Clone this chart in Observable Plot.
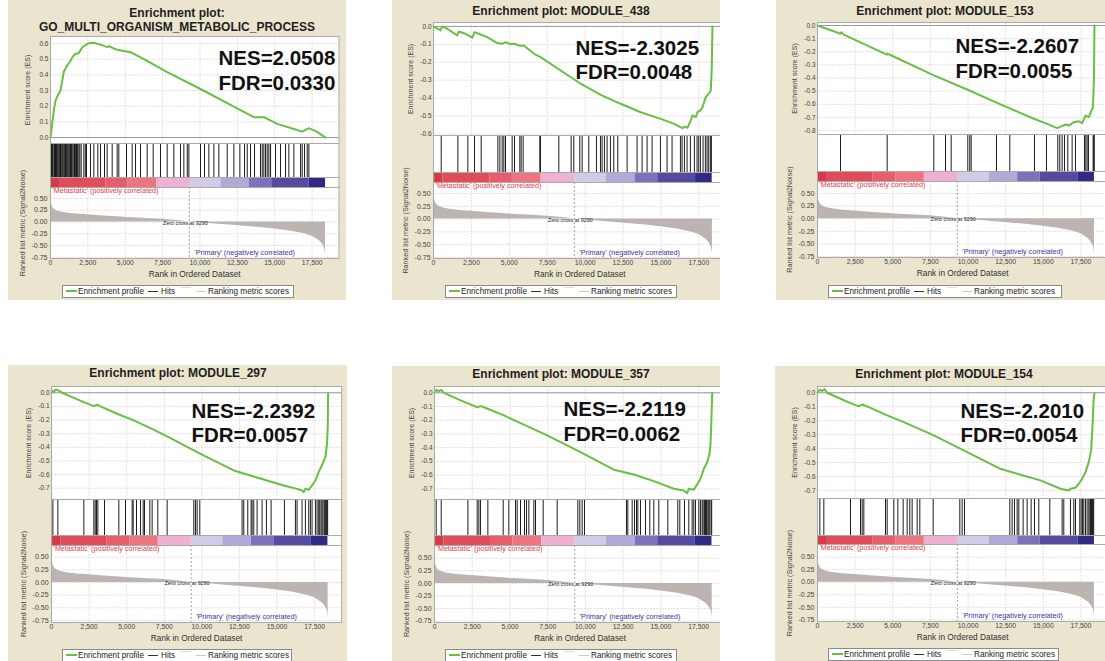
<!DOCTYPE html>
<html><head><meta charset="utf-8">
<script src="https://cdn.jsdelivr.net/npm/d3@7"></script>
<script src="https://cdn.jsdelivr.net/npm/@observablehq/plot@0.6"></script>
<style>
html,body{margin:0;padding:0;background:#fff;}
#root{position:relative;width:1105px;height:661px;overflow:hidden;font-family:"Liberation Sans",Arial,sans-serif;}
.panel{position:absolute;background:#ebe4cf;overflow:hidden;}
.panel svg{position:absolute;max-width:none;overflow:visible;}
.title{position:absolute;font-weight:bold;font-size:12px;line-height:14px;color:#1e1e1e;white-space:nowrap;transform:translateX(-50%);text-align:center;}
.legend{position:absolute;height:11px;background:#fff;border:1px solid #8a8a8a;font-size:8.2px;color:#222;}
.legend span{position:absolute;top:0;line-height:11px;white-space:nowrap;}
.legend i{position:absolute;height:0;width:10px;}
</style></head><body><div id="root"></div>
<script>
// ---------------- DATA ----------------
const panelTitles = [
  "Enrichment plot:\nGO_MULTI_ORGANISM_METABOLIC_PROCESS",
  "Enrichment plot: MODULE_438",
  "Enrichment plot: MODULE_153",
  "Enrichment plot: MODULE_297",
  "Enrichment plot: MODULE_357",
  "Enrichment plot: MODULE_154"
];
const nesLabels = ["NES=2.0508","NES=-2.3025","NES=-2.2607","NES=-2.2392","NES=-2.2119","NES=-2.2010"];
const fdrLabels = ["FDR=0.0330","FDR=0.0048","FDR=0.0055","FDR=0.0057","FDR=0.0062","FDR=0.0054"];

const xTicks = [0, 2500, 5000, 7500, 10000, 12500, 15000, 17500];
const metricTicks = [0.5, 0.25, 0, -0.25, -0.5, -0.75];
const esTicksPos6 = [0, 0.1, 0.2, 0.3, 0.4, 0.5, 0.6];
const esTicksNeg6 = [0, -0.1, -0.2, -0.3, -0.4, -0.5, -0.6];
const esTicksNeg8 = [0, -0.1, -0.2, -0.3, -0.4, -0.5, -0.6, -0.7, -0.8];
const esTicksNeg7 = [0, -0.1, -0.2, -0.3, -0.4, -0.5, -0.6, -0.7];

const zeroCross = 9290;
const posLabel = "'Metastatic' (positively correlated)";
const negLabel = "'Primary' (negatively correlated)";

// ranked list metric (shared by all panels)
const metricRanks  = [0, 30, 80, 150, 250, 400, 700, 1100, 1700, 2500, 3500, 4500, 5500, 6500, 7500, 8500, 9290, 10000, 11000, 12000, 13000, 14000, 15000, 16000, 17000, 17500, 18000, 18200, 18330, 18390, 18400];
const metricScores = [0.55, 0.45, 0.37, 0.31, 0.27, 0.24, 0.21, 0.19, 0.17, 0.155, 0.13, 0.11, 0.09, 0.075, 0.057, 0.03, 0, -0.015, -0.04, -0.065, -0.09, -0.115, -0.15, -0.19, -0.25, -0.3, -0.4, -0.47, -0.55, -0.65, -0.72];

// colour bar bands (rank ranges)
const bandStarts = [0, 600, 3700, 5200, 7100, 9300, 11400, 13300, 14800, 17300];
const bandEnds   = [600, 3700, 5200, 7100, 9300, 11400, 13300, 14800, 17300, 18400];

// running enrichment score [rank, ES]
const esP1 = [[0,0],[112,0.087],[223,0.17],[335,0.236],[491,0.27],[669,0.30],[781,0.36],[892,0.42],[1115,0.46],[1338,0.49],[1450,0.51],[1606,0.53],[1896,0.54],[2119,0.575],[2498,0.60],[2899,0.605],[3345,0.593],[3792,0.577],[3903,0.583],[4461,0.56],[5353,0.545],[6245,0.50],[7806,0.417],[10036,0.31],[12266,0.198],[13604,0.13],[14273,0.13],[15166,0.087],[16281,0.055],[16838,0.038],[17284,0.06],[17842,0.036],[18400,0]];
const esP2 = [[0,0],[286,-0.013],[462,-0.022],[572,0],[902,-0.013],[1563,-0.05],[1673,-0.028],[2113,-0.041],[2553,-0.063],[2706,-0.032],[3103,-0.045],[3543,-0.06],[4203,-0.093],[4533,-0.097],[4753,-0.088],[5083,-0.1],[5303,-0.097],[5700,-0.108],[5964,-0.106],[6625,-0.153],[7065,-0.171],[8386,-0.246],[9707,-0.32],[11028,-0.382],[12349,-0.432],[13670,-0.479],[14991,-0.516],[15872,-0.544],[16422,-0.568],[16576,-0.559],[16752,-0.566],[16972,-0.525],[17082,-0.497],[17302,-0.507],[17412,-0.479],[17588,-0.47],[17742,-0.451],[17962,-0.395],[18138,-0.376],[18292,-0.358],[18358,-0.227],[18400,0]];
const esP3 = [[0,0],[1528,-0.063],[1594,-0.051],[1749,-0.069],[4600,-0.222],[4640,-0.214],[4740,-0.219],[7729,-0.38],[9943,-0.487],[12157,-0.6],[14372,-0.71],[15258,-0.749],[15922,-0.782],[16144,-0.77],[16475,-0.754],[16697,-0.762],[17030,-0.736],[17361,-0.729],[17583,-0.744],[17805,-0.686],[18026,-0.698],[18200,-0.648],[18300,-0.622],[18370,-0.394],[18400,0]];
const esP4 = [[0,0],[45,0.017],[155,0.005],[266,0.022],[487,0.017],[709,0],[1485,-0.037],[2149,-0.069],[2814,-0.098],[3035,-0.088],[3256,-0.1],[4365,-0.154],[5473,-0.203],[6581,-0.259],[7690,-0.32],[9906,-0.448],[12122,-0.57],[13230,-0.607],[14338,-0.644],[15446,-0.68],[16333,-0.705],[16666,-0.717],[16776,-0.729],[16887,-0.705],[17108,-0.712],[17330,-0.68],[17552,-0.644],[17775,-0.58],[17996,-0.53],[18218,-0.47],[18329,-0.37],[18373,-0.25],[18400,0]];
const esP5 = [[0,0],[133,0.022],[287,0.012],[442,0.022],[618,0],[1502,-0.044],[2165,-0.075],[2827,-0.105],[3048,-0.097],[3269,-0.105],[4594,-0.165],[5698,-0.221],[7465,-0.311],[9674,-0.433],[11883,-0.561],[13208,-0.596],[14533,-0.644],[15859,-0.70],[16521,-0.712],[16742,-0.732],[16852,-0.70],[17183,-0.707],[17405,-0.668],[17625,-0.627],[17847,-0.554],[18067,-0.506],[18222,-0.445],[18288,-0.372],[18333,-0.25],[18400,0]];
const esP6 = [[0,0],[155,0.022],[310,0.012],[465,0.026],[642,0],[1528,-0.043],[2192,-0.074],[2745,-0.098],[2967,-0.084],[3299,-0.098],[4628,-0.162],[5735,-0.21],[7727,-0.306],[9942,-0.425],[12156,-0.545],[13485,-0.588],[14813,-0.628],[16142,-0.688],[16696,-0.70],[16806,-0.688],[17139,-0.681],[17360,-0.652],[17581,-0.616],[17803,-0.569],[18024,-0.497],[18179,-0.413],[18290,-0.198],[18345,-0.05],[18400,0]];

// gene set hit positions (ranks)
const hitsP1 = [30,70,112,150,223,270,335,400,446,500,558,610,669,720,781,830,892,950,1004,1060,1115,1170,1227,1290,1338,1400,1450,1520,1606,1680,1740,1800,1896,1963,2052,2230,2330,2409,2676,2900,3167,3345,3613,3791,4126,4460,4572,5085,5464,5687,6022,6468,6869,7360,7806,8252,8698,8921,9150,9256,10036,10304,10594,10929,11263,11821,12267,12668,12980,13159,13382,13649,14050,14162,14273,14385,14497,14608,14720,15054,15389,15723,15946,16281,16727,16838,16994,17173,17284];
const hitsP2 = [506,1605,2264,2704,3144,4243,4375,4529,4638,4748,5188,5342,5694,5782,5914,7013,7057,8266,9079,9255,9651,9805,10244,10750,11014,11124,11277,11453,11673,11893,12157,12772,13432,13762,14091,14421,14971,15410,15740,16290,16400,16553,16729,16949,17213,17389,17499,17609,17784,17938,18049,18158,18268,18334];
const hitsP3 = [1528,4628,7727,8503,8879,9986,10119,10208,11891,12777,14415,15212,15964,16097,16252,16408,16629,16917,17139,17736,17825,17914,18002,18312,18350,18385];
const hitsP4 = [89,421,2150,2815,2904,2992,3081,3524,4477,4921,5364,5431,5652,5918,6096,6184,6539,6694,7071,7692,9465,9576,9687,9864,12679,12790,13056,13277,13344,13455,13677,14009,14297,14608,15494,16226,16336,16669,16890,17112,17223,17334,17556,17667,17777,17844,17933,17999,18066,18154,18221,18287,18332,18370];
const hitsP5 = [110,442,2209,2827,2938,3048,3534,4550,4925,5367,5478,5698,5963,6096,6251,6582,6692,7200,8128,9497,9630,9785,9939,12722,12810,13098,13252,13385,13473,13650,13981,14268,14533,14864,15461,16123,16256,16565,16852,17073,17183,17294,17515,17625,17736,17802,17890,17957,18023,18111,18177,18243,18333,18370];
const hitsP6 = [155,421,2192,2856,2967,3078,4517,4628,5071,5337,5690,5956,6133,6288,6621,6798,7684,9455,9610,9765,12777,12932,13086,13264,13374,13662,13928,14194,14415,14703,15434,16252,16363,16806,17028,17139,17427,17515,17603,17692,17803,17914,18024,18100,18135,18200,18246,18280,18312,18350];

const esCurves = [esP1, esP2, esP3, esP4, esP5, esP6];
const hitSets = [hitsP1, hitsP2, hitsP3, hitsP4, hitsP5, hitsP6];
const esTickSets = [esTicksPos6, esTicksNeg6, esTicksNeg8, esTicksNeg7, esTicksNeg7, esTicksNeg7];

// ---------------- LAYOUT / STYLE ----------------
const XMAX = 19300, ML = 50;
const FONT = "'Liberation Sans', Arial, Helvetica, sans-serif";
const GREEN = "#6abd45", FRAME = "#a9a9a9", GRID = "#e6dfdf", AREA = "#bcb4b0";
const bandColors = ["#d63a48","#e14c5b","#e65e6c","#ec7580","#efb1d2","#d3cbe6","#b3a9d8","#7c72b9","#554a9f","#2f2a85"];
const L = [
 {bg:[8,0,338,300], x0:50, pw:288.5, tc:[177,5.5], es:[36,143], esDom:[-0.038,0.645], hits:[143,177], bar:[177,187], met:[187,258], metDom:[-0.775,0.733], leg:[62,285,230], nes:[168,21.5,46.5]},
 {bg:[392,0,328,300], x0:433, pw:292.6, tc:[561,4], es:[22,135], esDom:[-0.609,0.022], hits:[135,172], bar:[172,182], met:[182,258], metDom:[-0.77,0.715], leg:[445,285,230], nes:[142,25.5,49.5]},
 {bg:[776,0,329,300], x0:817, pw:290.5, tc:[945,3.5], es:[22,134], esDom:[-0.83,0.023], hits:[134,171], bar:[171,181], met:[181,257], metDom:[-0.77,0.738], leg:[828,285,232], nes:[138,23.5,48.5]},
 {bg:[8,365,339,296], x0:51, pw:290.2, tc:[178,366], es:[386,499], esDom:[-0.783,0.046], hits:[499,535], bar:[535,545], met:[545,622], metDom:[-0.79,0.731], leg:[62,649,228], nes:[140,24.5,48.5]},
 {bg:[392,366,328,295], x0:434, pw:291.3, tc:[561,367], es:[386,499], esDom:[-0.778,0.046], hits:[499,535], bar:[535,545], met:[545,622], metDom:[-0.776,0.752], leg:[445,649,230], nes:[129,23.2,48.2]},
 {bg:[775,366,330,295], x0:817, pw:290.5, tc:[944,367], es:[386,498], esDom:[-0.758,0.045], hits:[498,535], bar:[535,544], met:[544,621], metDom:[-0.784,0.754], leg:[828,648,229], nes:[143,24.8,49]}
];

const root = document.getElementById("root");
const metricData = metricRanks.map((r, k) => ({rank: r, score: metricScores[k]}));
const bands = bandStarts.map((s, k) => ({id: k, start: s, end: bandEnds[k]}));
const baseStyle = {background: "transparent", overflow: "visible", fontFamily: FONT, color: "#333", maxWidth: "none"};
const fmtComma = d3.format(",");

function common(l, h, mb = 0) {
  return {width: ML + l.pw, height: h + mb, marginLeft: ML, marginRight: 0, marginTop: 0, marginBottom: mb,
          x: {domain: [0, XMAX], axis: null}, style: baseStyle};
}

panelTitles.forEach((title, i) => {
  const l = L[i];
  const [bx, by, bw, bh] = l.bg;
  const panel = document.createElement("div");
  panel.className = "panel";
  Object.assign(panel.style, {left: bx + "px", top: by + "px", width: bw + "px", height: bh + "px"});
  root.appendChild(panel);

  const t = document.createElement("div");
  t.className = "title";
  t.innerHTML = title.split("\n").join("<br>");
  t.style.left = (l.tc[0] - bx) + "px";
  t.style.top = (l.tc[1] - by) + "px";
  panel.appendChild(t);

  const left = l.x0 - ML - bx;
  const place = (svg, top) => {
    svg.style.left = left + "px"; svg.style.top = (top - by) + "px";
    svg.style.maxWidth = "none"; svg.style.overflow = "visible";
    panel.appendChild(svg);
  };

  // Enrichment score plot
  const esH = l.es[1] - l.es[0];
  place(Plot.plot({
    ...common(l, esH),
    y: {domain: l.esDom, axis: null},
    marks: [
      Plot.frame({fill: "white", stroke: null}),
      Plot.gridX(xTicks, {stroke: GRID, strokeOpacity: 1, strokeDasharray: "2,1"}),
      Plot.gridY(esTickSets[i], {stroke: GRID, strokeOpacity: 1, strokeDasharray: "2,1"}),
      Plot.ruleY([0], {stroke: "#9a9a9a"}),
      Plot.line(esCurves[i], {x: d => d[0], y: d => d[1], stroke: GREEN, strokeWidth: 2}),
      Plot.axisY(esTickSets[i], {tickSize: 0, tickPadding: 2, fontSize: 6.5, tickFormat: d => d.toFixed(1), label: null, fill: "#444"}),
      Plot.text(["Enrichment score (ES)"], {text: d => d, frameAnchor: "left", textAnchor: "middle", lineAnchor: "middle", rotate: -90, dx: -23, fontSize: 7, fill: "#444"}),
      Plot.text([nesLabels[i]], {text: d => d, frameAnchor: "top-left", textAnchor: "start", lineAnchor: "middle", dx: l.nes[0], dy: l.nes[1], fontSize: 20.5, fontWeight: "bold", fill: "#111"}),
      Plot.text([fdrLabels[i]], {text: d => d, frameAnchor: "top-left", textAnchor: "start", lineAnchor: "middle", dx: l.nes[0], dy: l.nes[2], fontSize: 20.5, fontWeight: "bold", fill: "#111"}),
      Plot.frame({stroke: FRAME})
    ]
  }), l.es[0]);

  // Hits
  place(Plot.plot({
    ...common(l, l.hits[1] - l.hits[0]),
    marks: [
      Plot.frame({fill: "white", stroke: null}),
      Plot.ruleX(hitSets[i], {x: d => d, stroke: "#1c1c1c", strokeWidth: 1}),
      Plot.frame({stroke: FRAME})
    ]
  }), l.hits[0]);

  // Colour bar
  place(Plot.plot({
    ...common(l, l.bar[1] - l.bar[0]),
    color: {type: "ordinal", domain: bands.map(b => b.id), range: bandColors},
    marks: [
      Plot.frame({fill: "white", stroke: null}),
      Plot.barX(bands, {x1: "start", x2: "end", fill: "id", inset: 0}),
      Plot.frame({stroke: FRAME})
    ]
  }), l.bar[0]);

  // Ranked list metric
  place(Plot.plot({
    ...common(l, l.met[1] - l.met[0], 26),
    y: {domain: l.metDom, axis: null},
    marks: [
      Plot.frame({fill: "white", stroke: null}),
      Plot.gridX(xTicks, {stroke: GRID, strokeOpacity: 1, strokeDasharray: "2,1"}),
      Plot.gridY(metricTicks, {stroke: GRID, strokeOpacity: 1, strokeDasharray: "2,1"}),
      Plot.areaY(metricData, {x: "rank", y: "score", fill: AREA}),
      Plot.ruleX([zeroCross], {x: d => d, stroke: "#a0a0a0", strokeDasharray: "2,2"}),
      Plot.text([zeroCross], {x: d => d, y: d => 0, text: d => "Zero cross at " + d, textAnchor: "middle", lineAnchor: "middle", fontSize: 5.4, fill: "#222", dx: -4, dy: 1}),
      Plot.text([posLabel], {text: d => d, frameAnchor: "top-left", textAnchor: "start", lineAnchor: "middle", dx: 2, dy: 3.5, fontSize: 7.2, fill: "#e2393f"}),
      Plot.text([negLabel], {x: d => zeroCross, text: d => d, frameAnchor: "bottom", textAnchor: "start", lineAnchor: "middle", dx: 5, dy: -5.5, fontSize: 7.2, fill: "#3a33a0"}),
      Plot.axisY(metricTicks, {tickSize: 0, tickPadding: 3, fontSize: 7, tickFormat: d => d.toFixed(2), label: null, fill: "#444"}),
      Plot.axisX(xTicks, {tickSize: 0, tickPadding: 2, fontSize: 6.8, tickFormat: d => fmtComma(d), label: null, fill: "#444"}),
      Plot.text(["Rank in Ordered Dataset"], {text: d => d, frameAnchor: "bottom", textAnchor: "middle", lineAnchor: "middle", dy: 16, fontSize: 8.3, fill: "#333"}),
      Plot.text(["Ranked list metric (Signal2Noise)"], {text: d => d, frameAnchor: "left", textAnchor: "middle", lineAnchor: "middle", rotate: -90, dx: -28, fontSize: 7.2, fill: "#444"}),
      Plot.frame({stroke: FRAME})
    ]
  }), l.met[0]);

  // Legend
  const lg = document.createElement("div");
  lg.className = "legend";
  Object.assign(lg.style, {left: (l.leg[0] - bx) + "px", top: (l.leg[1] - by) + "px", width: l.leg[2] + "px"});
  lg.innerHTML =
    `<i style="left:3px;top:4px;width:11px;border-top:2px solid ${GREEN}"></i>` +
    `<span style="left:15px">Enrichment profile</span>` +
    `<i style="left:85px;top:5px;border-top:1.5px solid #333"></i>` +
    `<span style="left:98px">Hits</span>` +
    `<i style="left:118px;top:1px;border-top:1px solid #dedede"></i>` +
    `<i style="left:133px;top:5px;border-top:1.5px solid #cfc8c8"></i>` +
    `<span style="left:145px">Ranking metric scores</span>`;
  panel.appendChild(lg);
});
</script></body></html>
